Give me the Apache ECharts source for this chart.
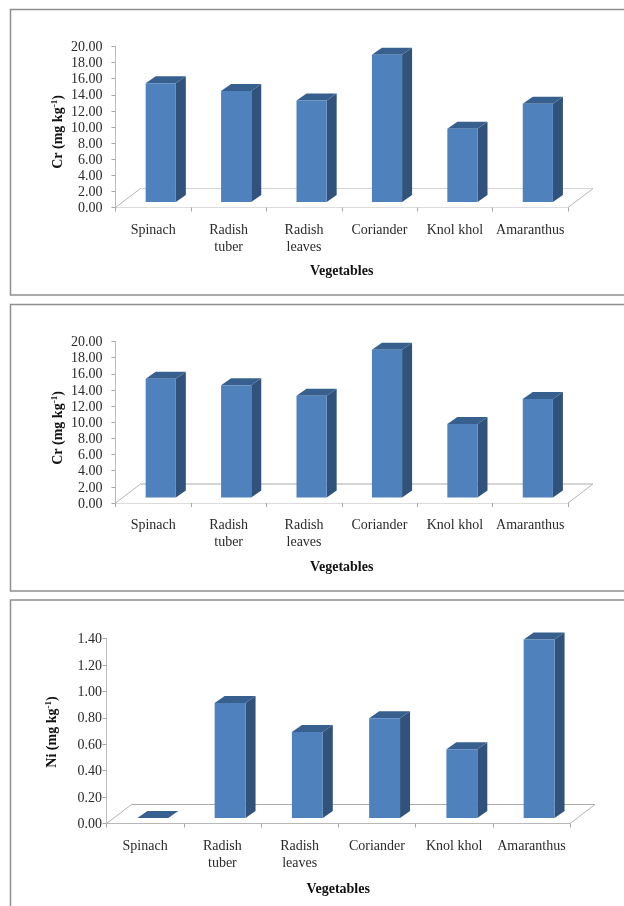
<!DOCTYPE html>
<html>
<head>
<meta charset="utf-8">
<style>html,body{margin:0;padding:0;background:#fff}#chart{width:624px;height:906px}</style>
<script src="https://cdn.jsdelivr.net/npm/echarts@6/dist/echarts.min.js"></script>
</head>
<body>
<div id="chart"></div>
<script>
// Heavy metal content of vegetables
const vegetables = ['Spinach', 'Radish\ntuber', 'Radish\nleaves', 'Coriander', 'Knol khol', 'Amaranthus'];
const crUpper = [14.75, 13.8, 12.6, 18.3, 9.1, 12.2];
const crLower = [14.7, 13.9, 12.6, 18.3, 9.1, 12.2];
const niValues = [0, 0.87, 0.65, 0.755, 0.52, 1.35];

const SERIF = '"Liberation Serif", "Times New Roman", serif';
const FRONT = '#4f81bd', SIDE = '#31527a', TOP = '#38608f';

const panels = [
  { values: crUpper, max: 20, step: 2, element: 'Cr', left: 115.5, right: 568, top: 46.5, bottom: 207.5, nameGap: 57,
    labelGap: 13, nameX: 58.5, nameY: 132, frameTop: 9.5, frameBottom: 295, backLine: '#d4d4d4', frontLine: '#dcdcdc' },
  { values: crLower, max: 20, step: 2, element: 'Cr', left: 115.5, right: 568, top: 341.5, bottom: 503, nameGap: 57,
    labelGap: 13, nameX: 58.5, nameY: 428, frameTop: 304.5, frameBottom: 591, backLine: '#ababab', frontLine: '#dcdcdc' },
  { values: niValues, max: 1.4, step: 0.2, element: 'Ni', left: 106.5, right: 570, top: 638.5, bottom: 823.5, nameGap: 59,
    labelGap: 4.5, nameX: 52.5, nameY: 732, frameTop: 600, frameBottom: 930, backLine: '#ababab', frontLine: '#b8b8b8' }
];

// Perspective offsets of the floor and of each column
const FLOOR_DX = 25, FLOOR_DY = 19;
const BAR_DX = 10, BAR_DY = 7, BAR_LIFT = 5.5;

function renderColumn(params, api) {
  const base = api.coord([api.value(0), 0]);
  const head = api.coord([api.value(0), api.value(1)]);
  const band = api.size([1, 0])[0];
  const w = band * 0.4;
  const x0 = base[0] - w / 2 + band * 0.1;
  const x1 = x0 + w;
  const y0 = base[1] - BAR_LIFT;
  const y1 = head[1] - BAR_LIFT;
  const poly = (points, fill) => ({ type: 'polygon', shape: { points }, style: { fill } });
  return {
    type: 'group',
    children: [
      poly([[x1, y0], [x1 + BAR_DX, y0 - BAR_DY], [x1 + BAR_DX, y1 - BAR_DY], [x1, y1]], SIDE),
      poly([[x0, y1], [x1, y1], [x1 + BAR_DX, y1 - BAR_DY], [x0 + BAR_DX, y1 - BAR_DY]], TOP),
      poly([[x0, y0], [x1, y0], [x1, y1], [x0, y1]], FRONT)
    ]
  };
}

function floorRenderer(panel) {
  return function (params) {
    const c = params.coordSys;
    const xl = c.x, xr = c.x + c.width, yb = c.y + c.height;
    const seg = (x1, y1, x2, y2, stroke) => ({
      type: 'line', shape: { x1, y1, x2, y2 }, style: { stroke, lineWidth: 1 }
    });
    return {
      type: 'group',
      children: [
        seg(xl + FLOOR_DX, yb - FLOOR_DY, xr + FLOOR_DX, yb - FLOOR_DY, panel.backLine),
        seg(xl, yb, xl + FLOOR_DX, yb - FLOOR_DY, '#b4b4b4'),
        seg(xr, yb, xr + FLOOR_DX, yb - FLOOR_DY, '#b4b4b4')
      ]
    };
  };
}

const W = 624, H = 906;
const grid = [], xAxis = [], yAxis = [], series = [], graphic = [];

panels.forEach((p, i) => {
  grid.push({ left: p.left, top: p.top, width: p.right - p.left, height: p.bottom - p.top, containLabel: false });
  xAxis.push({
    type: 'category', gridIndex: i, data: vegetables,
    name: 'Vegetables', nameLocation: 'middle', nameGap: p.nameGap,
    nameTextStyle: { fontFamily: SERIF, fontSize: 14, fontWeight: 'bold', color: '#111' },
    axisLine: { lineStyle: { color: p.frontLine } },
    axisTick: { show: true, length: 4, alignWithLabel: false, lineStyle: { color: '#a6a6a6' } },
    axisLabel: { fontFamily: SERIF, fontSize: 14, color: '#2a2a2a', lineHeight: 17, margin: 14, interval: 0 }
  });
  yAxis.push({
    type: 'value', gridIndex: i, min: 0, max: p.max, interval: p.step,
    splitLine: { show: false },
    axisLine: { show: true, lineStyle: { color: '#bdbdbd' } },
    axisTick: { show: true, length: 4, lineStyle: { color: '#a6a6a6' } },
    axisLabel: {
      margin: p.labelGap,
      formatter: v => '{t|' + v.toFixed(2) + '}',
      rich: { t: { fontFamily: SERIF, fontSize: 14, color: '#2a2a2a', padding: [2, 0, 0, 0] } }
    }
  });
  series.push({
    type: 'custom', xAxisIndex: i, yAxisIndex: i, silent: true, z: 1,
    renderItem: floorRenderer(p), data: [[0, 0]]
  });
  series.push({
    type: 'custom', xAxisIndex: i, yAxisIndex: i, silent: true, z: 2,
    renderItem: renderColumn, encode: { x: 0, y: 1 },
    data: p.values.map((v, k) => [k, v])
  });
  // Outer border of the panel
  graphic.push({
    type: 'rect', silent: true, z: 0,
    shape: { x: 10.5, y: p.frameTop, width: W + 20, height: p.frameBottom - p.frameTop },
    style: { fill: 'none', stroke: '#8f8f8f', lineWidth: 1.5 }
  });
  // Rotated unit title with its superscript
  graphic.push({
    type: 'text', silent: true, z: 5, x: p.nameX, y: p.nameY, rotation: Math.PI / 2,
    style: {
      text: '{b|' + p.element + ' (mg kg}{s|-1}{b|)}',
      align: 'center', verticalAlign: 'middle',
      rich: {
        b: { fontFamily: SERIF, fontSize: 14, fontWeight: 'bold', fill: '#111', lineHeight: 16 },
        s: { fontFamily: SERIF, fontSize: 9, fontWeight: 'bold', fill: '#111', verticalAlign: 'top', lineHeight: 16 }
      }
    }
  });
});

const chart = echarts.init(document.getElementById('chart'), null, { renderer: 'canvas', width: W, height: H });
chart.setOption({ animation: false, backgroundColor: '#fff', grid, xAxis, yAxis, series, graphic });
</script>
</body>
</html>
